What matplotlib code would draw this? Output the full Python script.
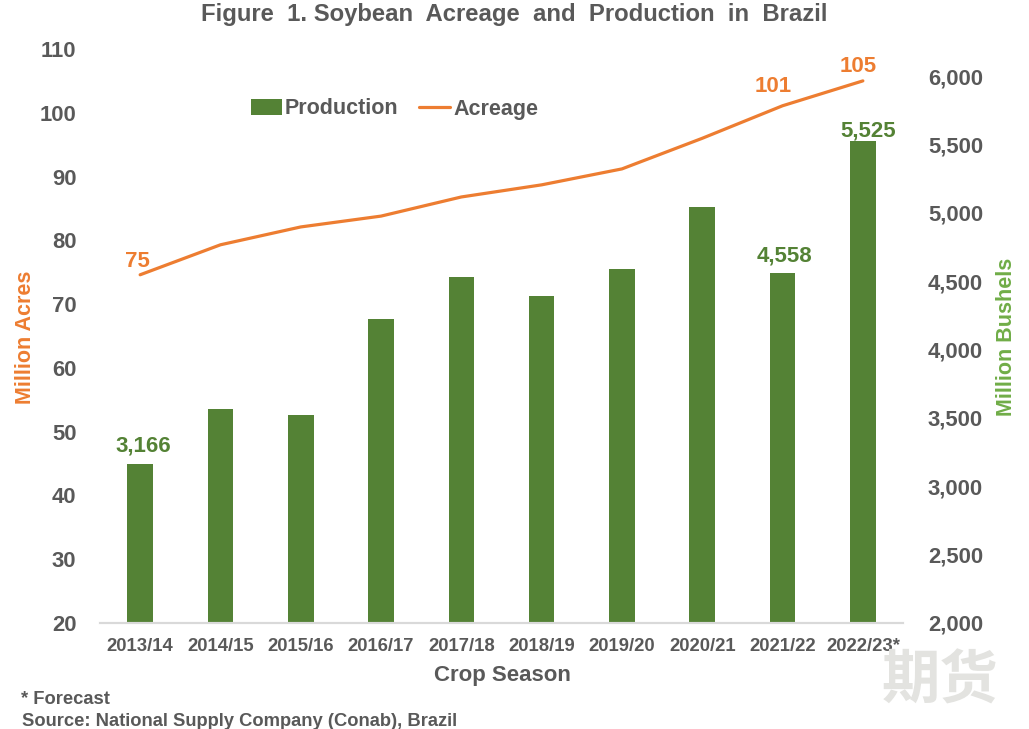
import matplotlib
matplotlib.use("Agg")
import matplotlib.pyplot as plt

plt.rcParams["font.family"] = ["Liberation Sans", "Noto Sans CJK SC", "DejaVu Sans"]
plt.rcParams["font.weight"] = "bold"

seasons = ["2013/14", "2014/15", "2015/16", "2016/17", "2017/18", "2018/19",
           "2019/20", "2020/21", "2021/22", "2022/23*"]
production = [3166, 3565, 3520, 4225, 4530, 4390, 4590, 5040, 4558, 5525]
acreage = [74.6, 79.3, 82.1, 83.8, 86.8, 88.7, 91.2, 96.0, 101.1, 105.0]
left_ticks = [20, 30, 40, 50, 60, 70, 80, 90, 100, 110]
right_ticks = [2000, 2500, 3000, 3500, 4000, 4500, 5000, 5500, 6000]

GREEN = "#548235"
ORANGE = "#ed7d31"
GRAY = "#595959"
W, H = 1029, 729

fig = plt.figure(figsize=(W / 100, H / 100), dpi=100)
# left axis goes behind, bars are on the right scale
ax1 = fig.add_axes([100 / W, 1 - 623 / H, 803 / W, 574 / H])
ax2 = ax1.twinx()
x = list(range(len(seasons)))

bars = ax2.bar(x, production, width=0.32, color=GREEN, label="Production")
line, = ax1.plot(x, acreage, color=ORANGE, lw=2.3, label="Acreage", solid_capstyle="round")
ax1.set_zorder(ax2.get_zorder() + 1)
ax1.patch.set_visible(False)

ax1.set_xlim(-0.5, 9.5)
ax1.set_ylim(20, 110)
ax2.set_ylim(2000, 6198)
ax1.set_yticks(left_ticks)
ax2.set_yticks(right_ticks)
ax2.set_yticklabels([f"{v:,}" for v in right_ticks])
ax1.set_xticks(x)
ax1.set_xticklabels(seasons)

for ax in (ax1, ax2):
    for s in ("top", "left", "right"):
        ax.spines[s].set_visible(False)
    ax.spines["bottom"].set_color("#d9d9d9")
    ax.spines["bottom"].set_linewidth(1.5)
    ax.tick_params(length=0)
ax1.tick_params(axis="y", labelsize=15.8, labelcolor=GRAY, pad=17)
ax2.tick_params(axis="y", labelsize=15.8, labelcolor=GRAY, pad=18)
ax1.tick_params(axis="x", labelsize=13.3, labelcolor=GRAY, pad=11)
for lab in ax1.get_yticklabels() + ax2.get_yticklabels():
    lab.set_verticalalignment("center_baseline")

# data labels, offsets in points from the mark
for i, txt, dx, dy in [(0, "3,166", 2, 5), (8, "4,558", 1, 5), (9, "5,525", 4, -0.5)]:
    ax2.annotate(txt, (i, production[i]), xytext=(dx, dy), textcoords="offset points",
                 ha="center", va="bottom", color=GREEN, fontsize=16)
for i, txt, dx, dy in [(0, "75", -2, 2), (8, "101", -7, 6), (9, "105", -3.5, 2.5)]:
    ax1.annotate(txt, (i, acreage[i]), xytext=(dx, dy), textcoords="offset points",
                 ha="center", va="bottom", color=ORANGE, fontsize=16)

fig.text(514 / W, 1 - 15 / H, "Figure  1. Soybean  Acreage  and  Production  in  Brazil",
         ha="center", va="center", fontsize=17.2, color=GRAY)
fig.text(502 / W, 1 - 676 / H, "Crop Season", ha="center", va="center", fontsize=16, color=GRAY)
fig.text(26 / W, 1 - 337 / H, "Million Acres", rotation=90, ha="center", va="center",
         fontsize=15.5, color=ORANGE)
fig.text(1007 / W, 1 - 337 / H, "Million Bushels", rotation=90, ha="center", va="center",
         fontsize=15.5, color="#70ad47")
fig.text(21 / W, 1 - 700 / H, "* Forecast", ha="left", va="center", fontsize=13.2, color=GRAY)
fig.text(22 / W, 1 - 721 / H, "Source: National Supply Company (Conab), Brazil",
         ha="left", va="center", fontsize=13.2, color=GRAY)

fig.legend([bars, line], ["Production", "Acreage"], loc="center left",
           bbox_to_anchor=(251 / W, 1 - 109 / H), ncol=2, frameon=False, fontsize=15.5,
           labelcolor=GRAY, handlelength=1.44, handletextpad=0.14, columnspacing=0.95,
           borderpad=0, borderaxespad=0)

# watermark
fig.text(940 / W, 1 - 683 / H, "期货", ha="center", va="center", fontsize=42,
         color="#e3e3e0", weight="bold")

fig.savefig("out.png", dpi=100)
